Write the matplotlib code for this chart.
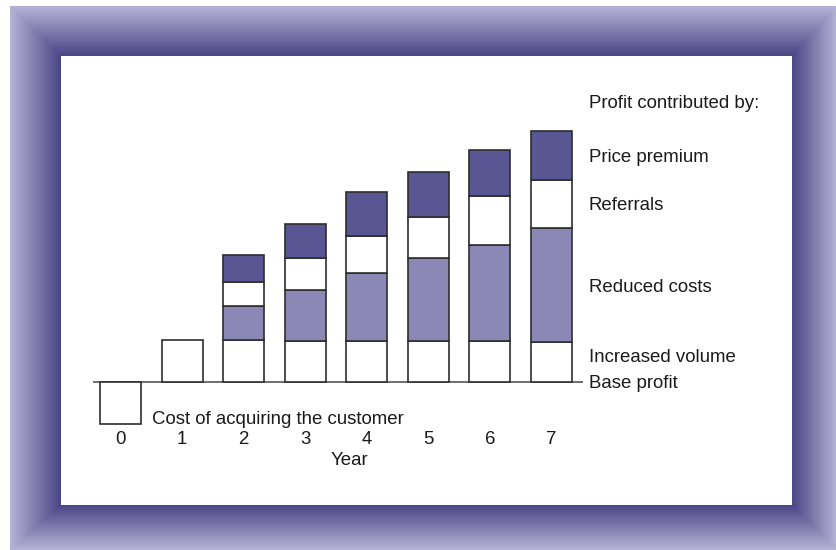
import numpy as np
import matplotlib
matplotlib.use("Agg")
import matplotlib.pyplot as plt

plt.rcParams['font.family'] = ['Liberation Sans', 'DejaVu Sans']

# ---- data ----
years = [0, 1, 2, 3, 4, 5, 6, 7]
year_labels = ['0', '1', '2', '3', '4', '5', '6', '7']
acquisition_cost = [-42, 0, 0, 0, 0, 0, 0, 0]
increased_volume = [0, 42, 42, 41, 41, 41, 41, 40]
reduced_costs = [0, 0, 34, 51, 68, 83, 96, 114]
referrals = [0, 0, 24, 32, 37, 41, 49, 48]
price_premium = [0, 0, 27, 34, 44, 45, 46, 49]

legend_labels = ['Price premium', 'Referrals', 'Reduced costs',
                 'Increased volume', 'Base profit']
legend_y = [220.5, 171.5, 90.5, 20.5, -6.5]

W, H = 837, 550
fig = plt.figure(figsize=(W / 100, H / 100), dpi=100)

# ---- gradient frame (decoration) ----
bg = fig.add_axes([0, 0, 1, 1])
bg.set_axis_off()
ox0, oy0, ox1, oy1 = 10, 6, 837, 550
ix0, iy0, ix1, iy1 = 61, 56, 792, 505
yy, xx = np.mgrid[0:H, 0:W] + 0.5
dl = (xx - ox0) / (ix0 - ox0)
dt = (yy - oy0) / (iy0 - oy0)
dr = (ox1 - xx) / (ox1 - ix1)
db = (oy1 - yy) / (oy1 - iy1)
t = np.minimum(np.minimum(dl, dt), np.minimum(dr, db))
inside_frame = (t >= 0) & (t < 1)
outer_c = np.array([182, 180, 214]) / 255
inner_c = np.array([74, 69, 134]) / 255
tc = np.clip(t, 0, 1)[..., None]
img = outer_c * (1 - tc) + inner_c * tc
img[~inside_frame] = 1.0
bg.imshow(img, extent=(0, W, H, 0), interpolation='nearest')
bg.set_xlim(0, W)
bg.set_ylim(H, 0)

# ---- main chart ----
px_per_year = 61.57
x_center0 = 120.5
base_py = 382
xmin = (ix0 - x_center0) / px_per_year
xmax = (ix1 - x_center0) / px_per_year
ax = fig.add_axes([ix0 / W, (H - iy1) / H, (ix1 - ix0) / W, (iy1 - iy0) / H])
ax.set_facecolor('none')
ax.set_xlim(xmin, xmax)
ax.set_ylim(base_py - iy1, base_py - iy0)

edge = '#2e2e2e'
lw = 1.2
bw = 0.666
dark = '#5a5593'
light = '#8c88b6'

x = np.array(years)
def draw(vals, bottom, color):
    vals = np.array(vals, dtype=float)
    bottom = np.array(bottom, dtype=float)
    m = vals != 0
    ax.bar(x[m], vals[m], bw, bottom=bottom[m], color=color,
           edgecolor=edge, linewidth=lw, zorder=3)

zero = np.zeros(len(years))
draw(acquisition_cost, zero, 'white')
b = np.array(increased_volume, dtype=float)
draw(increased_volume, zero, 'white')
draw(reduced_costs, b, light)
b = b + np.array(reduced_costs)
draw(referrals, b, 'white')
b = b + np.array(referrals)
draw(price_premium, b, dark)

# baseline
ax.plot([(93 - x_center0) / px_per_year, (583 - x_center0) / px_per_year], [0, 0],
        color='#555555', lw=1.2, zorder=2, solid_capstyle='butt')

fs = 13.4
tc_ = '#1a1a1a'
tx = (589 - x_center0) / px_per_year
ax.text(tx, 274, 'Profit contributed by:', fontsize=fs, va='baseline', ha='left', color=tc_)
for lab, ly in zip(legend_labels, legend_y):
    ax.text(tx, ly, lab, fontsize=fs, va='baseline', ha='left', color=tc_)
ax.text((152 - x_center0) / px_per_year, -42, 'Cost of acquiring the customer',
        fontsize=fs, va='baseline', ha='left', color=tc_)

# axis styling
for s in ['top', 'right', 'left']:
    ax.spines[s].set_visible(False)
ax.spines['bottom'].set_position(('data', -49))
ax.spines['bottom'].set_visible(False)
ax.set_yticks([])
ax.set_xticks(years, year_labels)
ax.tick_params(axis='x', length=0, pad=0, labelsize=fs, labelcolor=tc_)
ax.set_xlabel('Year', fontsize=fs, color=tc_)
ax.xaxis.set_label_coords((349 - ix0) / (ix1 - ix0), (iy1 - 452) / (iy1 - iy0))

fig.savefig('out.png', dpi=100)
